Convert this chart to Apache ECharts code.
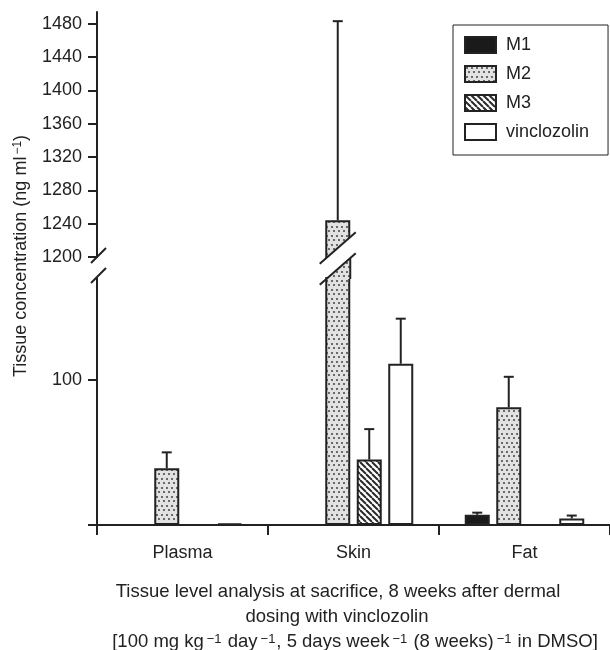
<!DOCTYPE html>
<html>
<head>
<meta charset="utf-8">
<script src="https://cdn.jsdelivr.net/npm/echarts@6/dist/echarts.min.js"></script>
<style>
html, body { margin: 0; padding: 0; background: #fff; }
#main { width: 610px; height: 650px; }
</style>
</head>
<body>
<div id="main"></div>
<script>
// data
var categories = ['Plasma', 'Skin', 'Fat'];
var seriesNames = ['M1', 'M2', 'M3', 'vinclozolin'];
var m1 = [0, 0, 7];
var m2 = [39, 1244, 81];
var m3 = [0, 45, 0];
var vinclozolin = [1, 111, 4.5];
var m1Err = [0, 0, 1.5];
var m2Err = [11, 239, 21];
var m3Err = [0, 21, 0];
var vinclozolinErr = [0, 31, 2];
var upperTicks = [1200, 1240, 1280, 1320, 1360, 1400, 1440, 1480];
var lowerTicks = [100];
var upperMin = 1200, upperMax = 1494;
var lowerMax = 170;

var values = [m1, m2, m3, vinclozolin];
var errors = [m1Err, m2Err, m3Err, vinclozolinErr];

var ink = '#222';
var font = 'Liberation Sans, Arial, sans-serif';
var fs = 18;
var gridLeft = 97;
var barW = 25, barGapPct = 26;
var pitch = barW * (1 + barGapPct / 100);

// fill patterns
function dotPattern() {
	var c = document.createElement('canvas');
	c.width = 10; c.height = 9;
	var g = c.getContext('2d');
	g.fillStyle = '#e2e2e2';
	g.fillRect(0, 0, 10, 9);
	g.fillStyle = '#6a6a6a';
	g.fillRect(1, 1, 2, 2);
	g.fillRect(6, 1, 2, 2);
	g.fillRect(3, 5, 2, 2);
	g.fillRect(8, 5, 2, 2);
	return c;
}
function stripePattern() {
	var s = 6;
	var c = document.createElement('canvas');
	c.width = s; c.height = s;
	var g = c.getContext('2d');
	g.fillStyle = '#fff';
	g.fillRect(0, 0, s, s);
	g.strokeStyle = '#2a2a2a';
	g.lineWidth = 2;
	for (var k = -s; k <= s; k += s) {
		g.beginPath();
		g.moveTo(k, 0);
		g.lineTo(k + s, s);
		g.stroke();
	}
	return c;
}
var fills = [
	'#1a1a1a',
	{ image: dotPattern(), repeat: 'repeat' },
	{ image: stripePattern(), repeat: 'repeat' },
	'#fff'
];

function barSeries(i, axisIdx, pick) {
	return {
		name: seriesNames[i],
		type: 'bar',
		xAxisIndex: axisIdx,
		yAxisIndex: axisIdx,
		barWidth: barW,
		barGap: barGapPct + '%',
		data: values[i].map(pick),
		itemStyle: { color: fills[i], borderColor: ink, borderWidth: 2 },
		emphasis: { disabled: true },
		animation: false
	};
}

function errSeries(axisIdx, keep) {
	var rows = [];
	for (var i = 0; i < values.length; i++) {
		for (var j = 0; j < categories.length; j++) {
			if (errors[i][j] > 0 && keep(values[i][j])) rows.push([j, values[i][j], errors[i][j], i]);
		}
	}
	return {
		type: 'custom',
		xAxisIndex: axisIdx,
		yAxisIndex: axisIdx,
		z: 5,
		silent: true,
		animation: false,
		data: rows,
		renderItem: function(params, api) {
			var base = api.coord([api.value(0), api.value(1)]);
			var top = api.coord([api.value(0), api.value(1) + api.value(2)]);
			var x = base[0] + (api.value(3) - 1.5) * pitch;
			var st = { stroke: ink, lineWidth: 2 };
			return {
				type: 'group',
				children: [
					{ type: 'line', shape: { x1: x, y1: base[1], x2: x, y2: top[1] }, style: st },
					{ type: 'line', shape: { x1: x - 5, y1: top[1], x2: x + 5, y2: top[1] }, style: st }
				]
			};
		}
	};
}

var series = [];
for (var i = 0; i < 4; i++) {
	series.push(barSeries(i, 0, function(v) { return v > lowerMax ? v : null; }));
}
for (var i = 0; i < 4; i++) {
	series.push(barSeries(i, 1, function(v) { return v; }));
}
series.push(errSeries(0, function(v) { return v > lowerMax; }));
series.push(errSeries(1, function(v) { return v <= lowerMax; }));

var plain = function(v) { return String(v); };

var chart = echarts.init(document.getElementById('main'), null, { renderer: 'canvas' });
var option = {
	backgroundColor: '#fff',
	textStyle: { fontFamily: font, color: ink },
	legend: {
		data: seriesNames,
		orient: 'vertical',
		left: 453,
		top: 25,
		padding: [11, 19, 14, 11],
		itemWidth: 31,
		itemHeight: 16,
		itemGap: 11,
		icon: 'rect',
		borderColor: ink,
		borderWidth: 1,
		selectedMode: false,
		textStyle: { fontSize: fs, color: ink, lineHeight: 16, padding: [0, 0, 0, 5], fontFamily: font }
	},
	grid: [
		{ left: gridLeft, right: 0, top: 12, bottom: 393 },
		{ left: gridLeft, right: 0, top: 278, bottom: 125 }
	],
	xAxis: [
		{ type: 'category', gridIndex: 0, data: categories, show: false },
		{
			type: 'category', gridIndex: 1, data: categories,
			axisLine: { lineStyle: { color: ink, width: 2 } },
			axisTick: { show: true, length: 10, lineStyle: { color: ink, width: 2 } },
			axisLabel: { fontSize: fs, color: ink, margin: 19, fontFamily: font }
		}
	],
	yAxis: [
		{
			type: 'value', gridIndex: 0, min: upperMin, max: upperMax,
			splitLine: { show: false },
			axisLine: { show: true, lineStyle: { color: ink, width: 2 } },
			axisTick: { show: true, length: 9, customValues: upperTicks, lineStyle: { color: ink, width: 2 } },
			axisLabel: { fontSize: fs, color: ink, margin: 15, customValues: upperTicks, formatter: plain, fontFamily: font }
		},
		{
			type: 'value', gridIndex: 1, min: 0, max: lowerMax,
			splitLine: { show: false },
			axisLine: { show: true, lineStyle: { color: ink, width: 2 } },
			axisTick: { show: true, length: 9, customValues: [0].concat(lowerTicks), lineStyle: { color: ink, width: 2 } },
			axisLabel: { fontSize: fs, color: ink, margin: 15, customValues: lowerTicks, formatter: plain, fontFamily: font }
		}
	],
	series: series
};
chart.setOption(option);

// axis / bar break marks and free text
function drawExtras() {
	var yTop = chart.convertToPixel({ yAxisIndex: 0 }, upperMin);
	var yLow = chart.convertToPixel({ yAxisIndex: 1 }, lowerMax);
	var bx = chart.convertToPixel({ xAxisIndex: 1 }, 'Skin') + (1 - 1.5) * pitch;
	var L = bx - barW / 2, R = bx + barW / 2;
	var k = 0.87;
	var c1 = yTop - 9, c2 = yLow - 9;
	var st = { stroke: ink, lineWidth: 2 };
	var rich = { sup: { fontSize: 12, lineHeight: 10, verticalAlign: 'top', padding: [0, 0, 0, 2], fontFamily: font, fill: ink } };
	var capRich = { sup: { fontSize: 13, lineHeight: 10, verticalAlign: 'top', padding: [0, 1, 0, 3], fontFamily: font, fill: ink } };
	var tf = fs + 'px ' + font;
	var cf = '18.5px ' + font;
	var g = [
		// patterned stub of the lower bar above the grid top
		{ type: 'polygon', z: 10, shape: { points: [[L, c2 + 12.5 * k], [R, c2 - 12.5 * k], [R, yLow + 1], [L, yLow + 1]] },
			style: { fill: fills[1], stroke: null } },
		{ type: 'line', z: 11, shape: { x1: R, y1: c2 - 12.5 * k, x2: R, y2: yLow + 1 }, style: st },
		// white gap between the bar slashes
		{ type: 'polygon', z: 10, shape: { points: [[L - 1, c1 + 13.5 * k], [R + 1, c1 - 13.5 * k], [R + 1, yTop + 2], [L - 1, yTop + 2]] },
			style: { fill: '#fff', stroke: null } },
		{ type: 'line', z: 12, shape: { x1: bx - 18, y1: c1 + 18 * k, x2: bx + 18, y2: c1 - 18 * k }, style: st },
		{ type: 'line', z: 12, shape: { x1: bx - 18, y1: c2 + 18 * k, x2: bx + 18, y2: c2 - 18 * k }, style: st },
		// axis slashes
		{ type: 'line', z: 12, shape: { x1: gridLeft - 6, y1: yTop + 6, x2: gridLeft + 9, y2: yTop - 9 }, style: st },
		{ type: 'line', z: 12, shape: { x1: gridLeft - 6, y1: yLow + 5, x2: gridLeft + 9, y2: yLow - 10 }, style: st },
		// y axis name
		{ type: 'text', x: 21, y: 256, rotation: Math.PI / 2,
			style: { text: 'Tissue concentration (ng ml{sup|\u22121})', rich: rich, font: tf, fill: ink, align: 'center', verticalAlign: 'middle' } },
		// caption
		{ type: 'text', x: 338, y: 592,
			style: { text: 'Tissue level analysis at sacrifice, 8 weeks after dermal', font: cf, fill: ink, align: 'center', verticalAlign: 'middle' } },
		{ type: 'text', x: 337, y: 617,
			style: { text: 'dosing with vinclozolin', font: cf, fill: ink, align: 'center', verticalAlign: 'middle' } },
		{ type: 'text', x: 355, y: 642,
			style: { text: '[100 mg kg{sup|\u22121} day{sup|\u22121}, 5 days week{sup|\u22121} (8 weeks){sup|\u22121} in DMSO]', rich: capRich, font: cf, fill: ink, align: 'center', verticalAlign: 'middle' } }
	];
	chart.setOption({ graphic: g });
}
drawExtras();
</script>
</body>
</html>
